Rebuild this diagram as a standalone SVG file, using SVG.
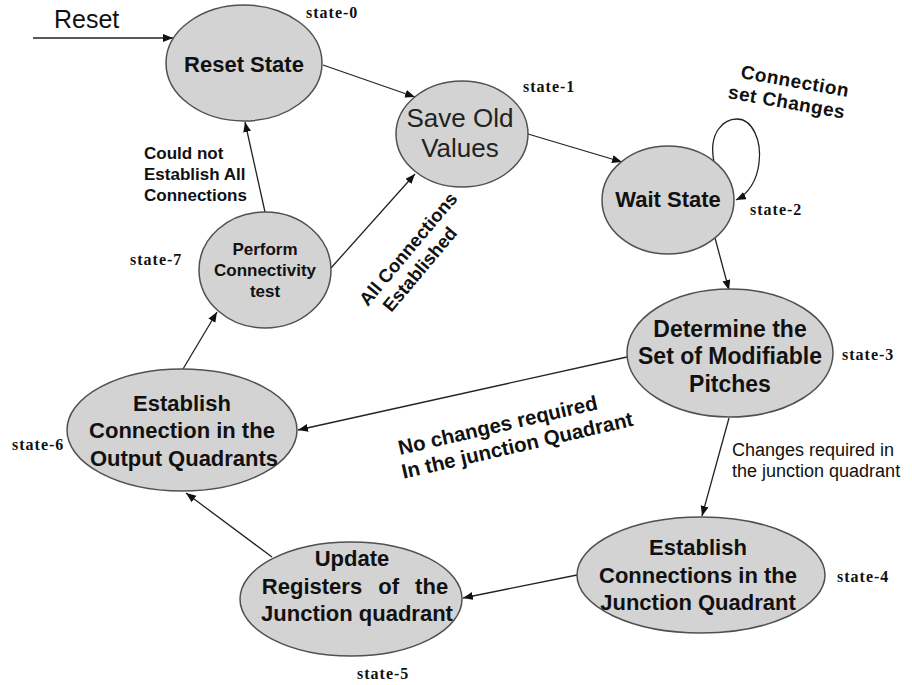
<svg xmlns="http://www.w3.org/2000/svg" width="912" height="685" viewBox="0 0 912 685">
<style>
.node{fill:#d3d3d3;stroke:#505050;stroke-width:1.5}
.nt{font-family:"Liberation Sans",Arial,sans-serif;font-weight:bold;font-size:22px;fill:#111;text-anchor:middle}
.st{font-family:"Liberation Serif","Times New Roman",serif;font-weight:bold;font-size:16px;fill:#111;letter-spacing:1px}
.lb{font-family:"Liberation Sans",Arial,sans-serif;font-weight:bold;font-size:17px;fill:#111}
.lr{font-family:"Liberation Sans",Arial,sans-serif;font-size:18px;fill:#111}
.edge{fill:none;stroke:#222;stroke-width:1.3;marker-end:url(#ah)}
</style>
<defs>
<marker id="ah" markerUnits="userSpaceOnUse" markerWidth="12" markerHeight="10" refX="10" refY="4" orient="auto">
<path d="M0,0 L10,4 L0,8 Z" fill="#111"/>
</marker>
</defs>
<rect width="912" height="685" fill="#fff"/>

<g id="connectors">
<line class="edge" x1="33" y1="38" x2="173" y2="38"/>
<line class="edge" x1="323" y1="65" x2="415" y2="97"/>
<line class="edge" x1="528" y1="134" x2="622" y2="162"/>
<path class="edge" d="M714,162 C708,132 724,119 737,119 C752,119 762,140 759,163 C757,181 748,194 736,200"/>
<line class="edge" x1="715" y1="238" x2="729" y2="290"/>
<line class="edge" x1="729" y1="418" x2="702" y2="516"/>
<line class="edge" x1="627" y1="357" x2="298" y2="430"/>
<line class="edge" x1="577" y1="575" x2="463" y2="598"/>
<line class="edge" x1="272" y1="557" x2="186" y2="493"/>
<line class="edge" x1="183" y1="369" x2="217" y2="312"/>
<line class="edge" x1="265" y1="212" x2="245" y2="122"/>
<line class="edge" x1="331" y1="268" x2="415" y2="174"/>
</g>

<g id="labels">
<text x="54" y="28" style="font-family:'Liberation Sans',Arial,sans-serif;font-size:25px" fill="#111">Reset</text>
<g transform="translate(740,78) rotate(10)">
<text class="lb" style="font-size:19px;letter-spacing:0.5px" x="0" y="0">Connection</text>
<text class="lb" style="font-size:19px;letter-spacing:0.5px" x="-9" y="22">set Changes</text>
</g>
<text class="lb"><tspan x="144" y="159">Could not</tspan><tspan x="144" y="180">Establish All</tspan><tspan x="144" y="201">Connections</tspan></text>
<g transform="translate(413,253) rotate(-50)">
<text class="lb" style="font-size:18.5px;text-anchor:middle" x="0" y="0">All Connections</text>
<text class="lb" style="font-size:18.5px;text-anchor:middle" x="-8" y="22">Established</text>
</g>
<g transform="translate(400,455) rotate(-13)">
<text class="lb" style="font-size:20.5px" x="0" y="0">No changes required</text>
<text class="lb" style="font-size:20.5px" x="-2" y="24">In the junction Quadrant</text>
</g>
<text class="lr"><tspan x="732" y="456">Changes required in</tspan><tspan x="732" y="477">the junction quadrant</tspan></text>
</g>

<g id="state0">
<ellipse class="node" cx="244" cy="63" rx="78" ry="58"/>
<text class="nt" x="244" y="72">Reset State</text>
<text class="st" x="306" y="18">state-0</text>
</g>
<g id="state1">
<ellipse class="node" cx="462" cy="134" rx="66" ry="53"/>
<text class="nt" style="font-weight:normal;font-size:26px;fill:#222"><tspan x="460" y="127">Save Old</tspan><tspan x="460" y="157">Values</tspan></text>
<text class="st" x="523" y="92">state-1</text>
</g>
<g id="state2">
<ellipse class="node" cx="668" cy="200" rx="66" ry="54"/>
<text class="nt" x="668" y="207">Wait State</text>
<text class="st" x="750" y="215">state-2</text>
</g>
<g id="state3">
<ellipse class="node" cx="730" cy="353" rx="103" ry="64"/>
<text class="nt" style="font-size:23px"><tspan x="730" y="337">Determine the</tspan><tspan x="730" y="364">Set of Modifiable</tspan><tspan x="730" y="392">Pitches</tspan></text>
<text class="st" x="842" y="360">state-3</text>
</g>
<g id="state4">
<ellipse class="node" cx="701" cy="575" rx="124" ry="58"/>
<text class="nt"><tspan x="698" y="555">Establish</tspan><tspan x="698" y="583">Connections in the</tspan><tspan x="698" y="610">Junction Quadrant</tspan></text>
<text class="st" x="837" y="582">state-4</text>
</g>
<g id="state5">
<ellipse class="node" cx="351" cy="599" rx="111" ry="57"/>
<text class="nt"><tspan x="352" y="566">Update</tspan><tspan x="355" y="594" style="word-spacing:10px">Registers of the</tspan><tspan x="357" y="621">Junction quadrant</tspan></text>
<text class="st" x="357" y="679">state-5</text>
</g>
<g id="state6">
<ellipse class="node" cx="182" cy="430" rx="115" ry="61"/>
<text class="nt"><tspan x="182" y="411">Establish</tspan><tspan x="182" y="438">Connection in the</tspan><tspan x="184" y="466">Output Quadrants</tspan></text>
<text class="st" x="12" y="450">state-6</text>
</g>
<g id="state7">
<ellipse class="node" cx="265" cy="270" rx="66" ry="58"/>
<text class="nt" style="font-size:17px"><tspan x="265" y="255">Perform</tspan><tspan x="265" y="276">Connectivity</tspan><tspan x="265" y="297">test</tspan></text>
<text class="st" x="130" y="265">state-7</text>
</g>
</svg>
